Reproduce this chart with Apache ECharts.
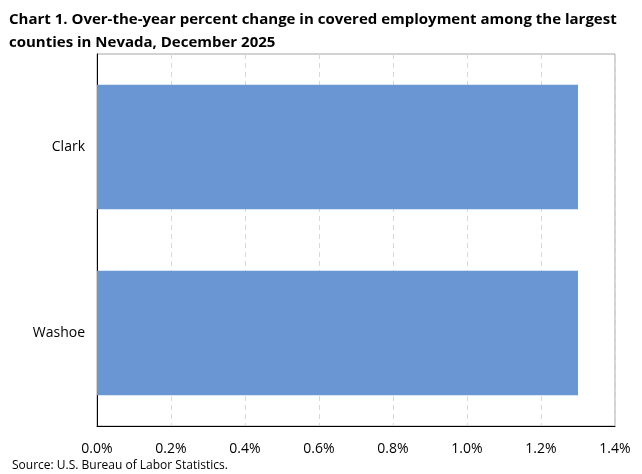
<!DOCTYPE html>
<html>
<head>
<meta charset="utf-8">
<script src="https://cdn.jsdelivr.net/npm/echarts@6/dist/echarts.min.js"></script>
<style>
  html, body { margin: 0; padding: 0; background: #fff; }
  #chart { width: 642px; height: 474px; }
</style>
</head>
<body>
<div id="chart"></div>
<script>
// counties, top to bottom
const counties = ['Clark', 'Washoe'];
// over-the-year percent change
const pctChange = [1.3, 1.3];

const chart = echarts.init(document.getElementById('chart'), null, { renderer: 'canvas' });

const font = '"Open Sans", "Noto Sans", sans-serif';

chart.setOption({
  animation: false,
  textStyle: { fontFamily: font },
  title: {
    text: 'Chart 1. Over-the-year percent change in covered employment among the largest\ncounties in Nevada, December 2025',
    left: 4,
    top: 3,
    textStyle: { fontFamily: font, fontSize: 15, fontWeight: 'bold', color: '#000', lineHeight: 23 }
  },
  graphic: [{
    type: 'text',
    left: 12,
    top: 460,
    style: { text: 'Source: U.S. Bureau of Labor Statistics.', font: '12px ' + font, fill: '#000' }
  }],
  grid: {
    left: 97, right: 27, top: 54, bottom: 48,
    show: true, borderColor: '#a6a6a6', borderWidth: 1
  },
  xAxis: {
    type: 'value',
    min: 0, max: 1.4, interval: 0.2,
    axisLine: { show: true, lineStyle: { color: '#000' } },
    axisTick: { show: false },
    splitLine: { show: true, lineStyle: { color: '#d9d9d9', type: [5, 4] } },
    axisLabel: {
      formatter: v => v.toFixed(1) + '%',
      fontSize: 14, color: '#000', margin: 16, fontFamily: font
    }
  },
  yAxis: {
    type: 'category',
    data: counties,
    inverse: true,
    axisLine: { show: true, lineStyle: { color: '#000' } },
    axisTick: { show: false },
    axisLabel: { fontSize: 14, color: '#000', margin: 12, fontFamily: font }
  },
  series: [{
    type: 'bar',
    data: pctChange,
    barCategoryGap: '33%',
    itemStyle: { color: '#6a97d4' }
  }]
});
</script>
</body>
</html>
